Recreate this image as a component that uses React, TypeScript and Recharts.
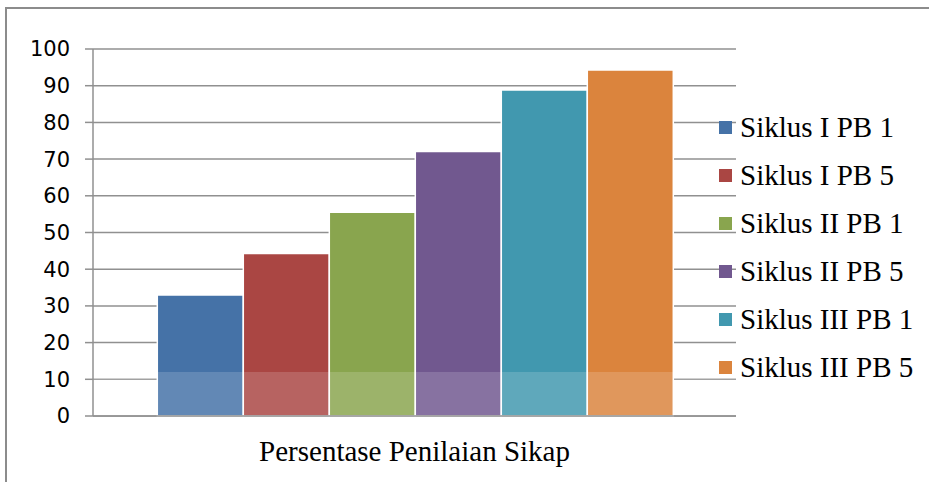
import {
  BarChart,
  Bar,
  XAxis,
  YAxis,
  CartesianGrid,
  ReferenceArea,
} from "recharts";

const category = "Persentase Penilaian Sikap";
const seriesNames = [
  "Siklus I PB 1",
  "Siklus I PB 5",
  "Siklus II PB 1",
  "Siklus II PB 5",
  "Siklus III PB 1",
  "Siklus III PB 5",
];
const seriesValues = [33, 44.3, 55.5, 72.1, 88.8, 94.3];
const yTicks = [0, 10, 20, 30, 40, 50, 60, 70, 80, 90, 100];

const colors = ["#4572a7", "#aa4643", "#89a54e", "#71588f", "#4198af", "#db843d"];

const keys = seriesNames.map((_, i) => `s${i}`);
const data = [
  seriesValues.reduce(
    (row, v, i) => ({ ...row, [keys[i]]: v }),
    { name: category } as Record<string, string | number>
  ),
];

const LegendBox = () => (
  <div style={{ position: "absolute", left: 719, top: 103 }}>
    {seriesNames.map((name, i) => (
      <div
        key={name}
        style={{ display: "flex", alignItems: "center", height: 48 }}
      >
        <span
          style={{
            width: 13,
            height: 13,
            background: colors[i],
            display: "inline-block",
            marginRight: 8,
          }}
        />
        <span
          style={{
            fontFamily: "Liberation Serif",
            fontSize: 29,
            color: "#000",
            whiteSpace: "nowrap",
          }}
        >
          {name}
        </span>
      </div>
    ))}
  </div>
);

export default function App() {
  return (
    <div
      style={{
        position: "fixed",
        left: 0,
        top: 0,
        width: 929,
        height: 482,
        overflow: "hidden",
        background: "#fff",
      }}
    >
      <div
        style={{
          position: "absolute",
          left: 5,
          top: 7,
          width: 1000,
          height: 1000,
          border: "2px solid #8c8c8c",
        }}
      />
      <div style={{ position: "absolute", left: 0, top: 0 }}>
        <BarChart
          width={929}
          height={482}
          data={data}
          margin={{ top: 49, right: 193, bottom: 0, left: 0 }}
          barCategoryGap="10%"
          barGap={0}
        >
          <CartesianGrid
            vertical={false}
            stroke="#909090"
            strokeWidth={1.5}
          />
          <XAxis
            dataKey="name"
            height={66}
            tickLine={false}
            axisLine={{ stroke: "#909090", strokeWidth: 1.5 }}
            tickMargin={18}
            tick={{ fontFamily: "Liberation Serif", fontSize: 29, fill: "#000" }}
          />
          <YAxis
            width={93}
            domain={[0, 100]}
            ticks={yTicks}
            interval={0}
            tickSize={8}
            tickMargin={15}
            axisLine={{ stroke: "#909090", strokeWidth: 1.5 }}
            tickLine={{ stroke: "#909090", strokeWidth: 1.5 }}
            tick={{ fontFamily: "DejaVu Sans", fontSize: 21, fill: "#000" }}
          />
          {keys.map((k, i) => (
            <Bar
              key={k}
              dataKey={k}
              name={seriesNames[i]}
              fill={colors[i]}
              stroke="#fff"
              strokeWidth={1.5}
              isAnimationActive={false}
            />
          ))}
          <ReferenceArea
            y1={0}
            y2={12}
            fill="#fff"
            fillOpacity={0.16}
            stroke="none"
            zIndex={350}
          />
        </BarChart>
      </div>
      <LegendBox />
    </div>
  );
}
